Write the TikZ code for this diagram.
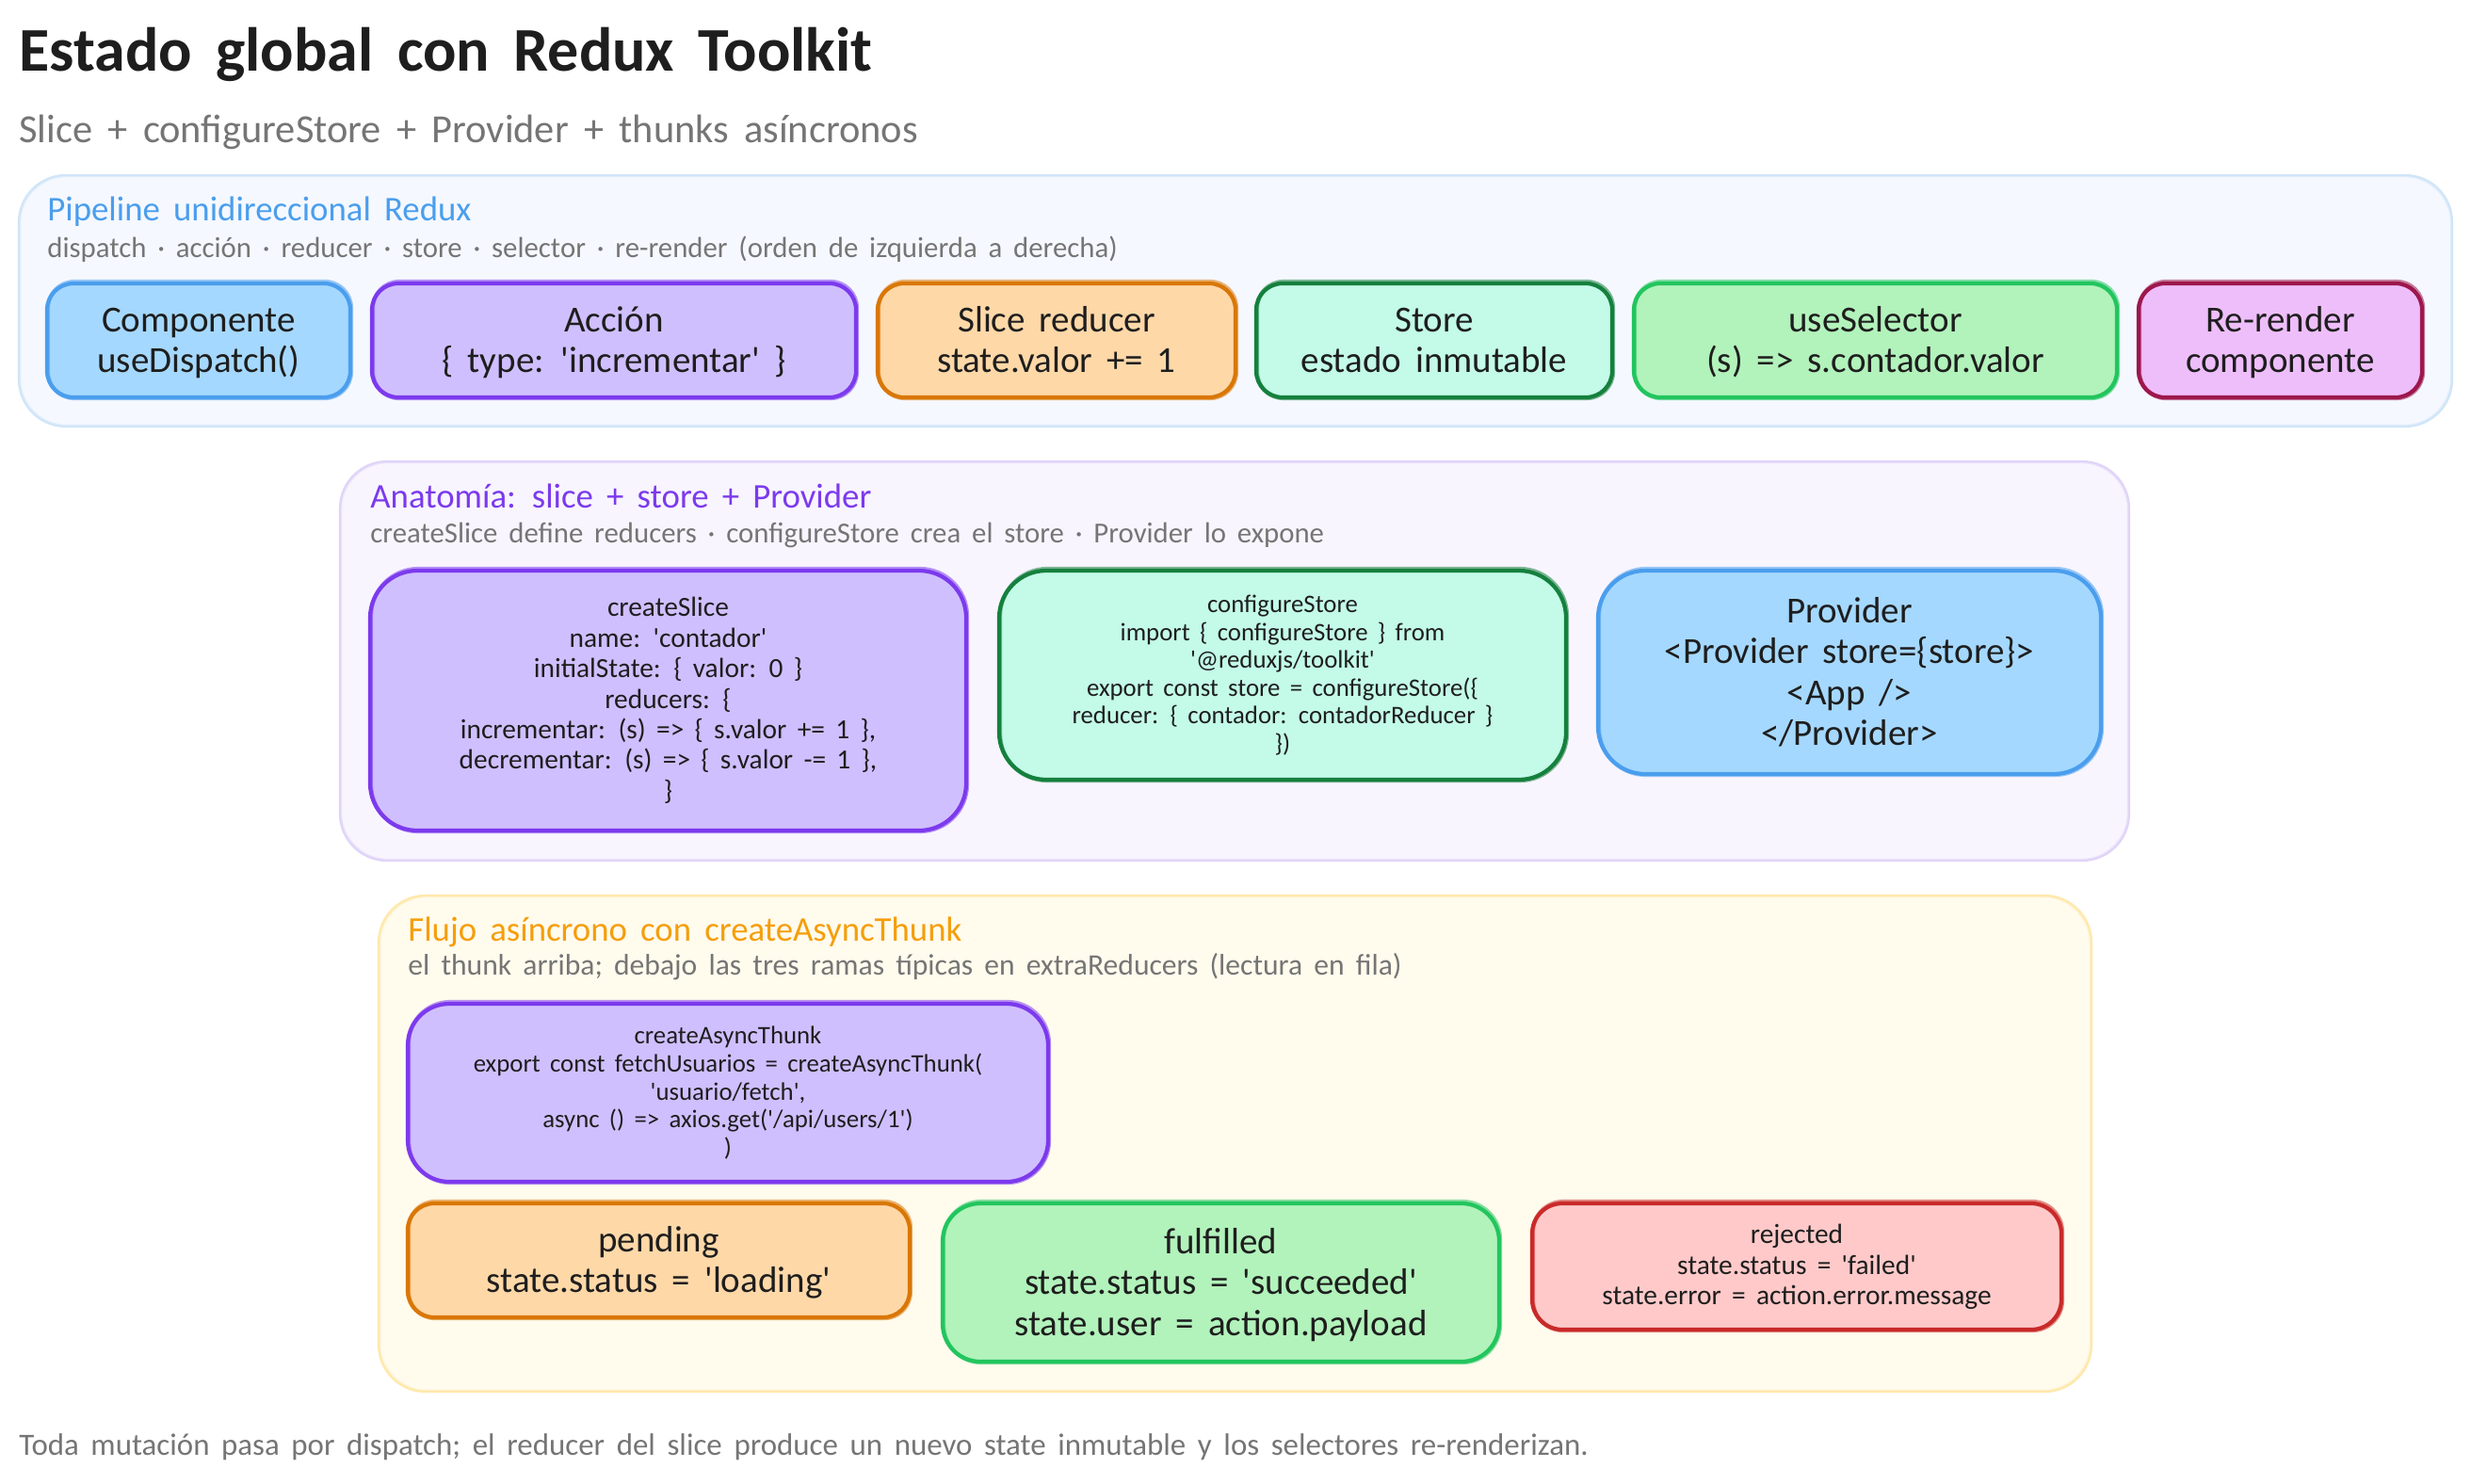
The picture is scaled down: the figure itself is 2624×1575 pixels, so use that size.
\documentclass[tikz,border=0pt]{standalone}
\usepackage{fontspec}
\newfontfamily\hand{Carlito}[WordSpace=1.7]
\definecolor{ink}{HTML}{1E1E1E}
\definecolor{muted}{HTML}{757575}
\definecolor{cblue}{HTML}{4A9EED}
\definecolor{cviolet}{HTML}{7C3AED}
\definecolor{camber}{HTML}{F59E0B}
\definecolor{fblue}{HTML}{A5D8FF}
\definecolor{fviolet}{HTML}{D0BFFF}
\definecolor{forange}{HTML}{FFD8A8}
\definecolor{corange}{HTML}{D97706}
\definecolor{fteal}{HTML}{C3FAE8}
\definecolor{cteal}{HTML}{15803D}
\definecolor{fgreen}{HTML}{B2F2BB}
\definecolor{cgreen}{HTML}{22C55E}
\definecolor{fpink}{HTML}{EEBEFA}
\definecolor{cpink}{HTML}{9D174D}
\definecolor{fred}{HTML}{FFC9C9}
\definecolor{cred}{HTML}{C92A2A}
\definecolor{pbluef}{HTML}{F5F8FF}
\definecolor{pbluec}{HTML}{D0E5F8}
\definecolor{pviof}{HTML}{F8F5FF}
\definecolor{pvioc}{HTML}{E0D4F8}
\definecolor{pambf}{HTML}{FFFBED}
\definecolor{pambc}{HTML}{FFE8AB}
\tikzset{
  x=0.5pt,y=-0.5pt,
  bluebox/.style={fill=fblue,draw=cblue},
  violetbox/.style={fill=fviolet,draw=cviolet},
  orangebox/.style={fill=forange,draw=corange},
  tealbox/.style={fill=fteal,draw=cteal},
  greenbox/.style={fill=fgreen,draw=cgreen},
  pinkbox/.style={fill=fpink,draw=cpink},
  redbox/.style={fill=fred,draw=cred},
  bluepanel/.style={fill=pbluef,draw=pbluec,line width=1.1pt},
  violetpanel/.style={fill=pviof,draw=pvioc,line width=1.1pt},
  amberpanel/.style={fill=pambf,draw=pambc,line width=1.1pt},
  boxline/.style={line width=2.1pt},
  bigt/.style={yshift=-2pt,font=\hand\fontsize{19.5}{21.7}\selectfont},
  midt/.style={yshift=-0.8pt,font=\hand\fontsize{14.7}{16.2}\selectfont},
  smallt/.style={yshift=-0.8pt,font=\hand\fontsize{13.4}{14.8}\selectfont},
  maintitle/.style={anchor=west,inner sep=0,text=ink,font=\hand\bfseries\fontsize{33}{36}\selectfont},
  subtitle/.style={anchor=west,inner sep=0,text=muted,font=\hand\fontsize{21.2}{26}\selectfont},
  paneltitle/.style={anchor=west,inner sep=0,font=\hand\fontsize{18.4}{24}\selectfont},
  panelsub/.style={anchor=west,inner sep=0,text=muted,font=\hand\fontsize{15.4}{18}\selectfont},
  panelsubwide/.style={anchor=west,inner sep=0,text=muted,font=\hand\fontsize{15.8}{18}\selectfont},
  footnote/.style={anchor=west,inner sep=0,text=muted,font=\hand\fontsize{16.45}{18}\selectfont},
  boxtext/.style={text=ink,align=center,inner sep=0}
}
% name, x1,y1,x2,y2, radius(pt), look, size, text
\newcommand\skbox[9]{%
  \path[#7,draw=none,rounded corners=#6pt] (#2,#3) rectangle (#4,#5);
  \path[#7,fill=none,boxline,opacity=.55,rounded corners=#6pt] ({#2+1},{#3-2}) rectangle ({#4+1},{#5+1});
  \path[#7,fill=none,boxline,rounded corners=#6pt] (#2,#3) rectangle (#4,#5);
  \node[boxtext,#8] (#1) at ({(#2+#4)/2},{(#3+#5)/2}) {\strut #9\strut};
}
\newcommand\skpanel[7]{%
  \path[#7,rounded corners=#6pt] (#2,#3) rectangle (#4,#5) coordinate (#1);
  \path[#7,fill=none,opacity=.5,rounded corners=#6pt] ({#2+1},{#3+1}) rectangle ({#4-1},{#5-1});
}
\begin{document}
\begin{tikzpicture}
\useasboundingbox (0,0) rectangle (2624,1575);
\fill[white] (0,0) rectangle (2624,1575);
\node[maintitle] (title) at (20,58) {Estado global con Redux Toolkit};
\node[subtitle] (subt) at (20,140) {Slice + configureStore + Provider + thunks asíncronos};

\skpanel{p1}{20}{186}{2604}{453}{25}{bluepanel}
\node[paneltitle,text=cblue] (p1t) at (50,225) {Pipeline unidireccional Redux};
\node[panelsub] (p1s) at (50,265) {dispatch · acción · reducer · store · selector · re-render (orden de izquierda a derecha)};
\skbox{a1}{50}{301}{372}{422}{14}{bluebox}{bigt}{Componente\\useDispatch()}
\skbox{a2}{395}{301}{909}{422}{14}{violetbox}{bigt}{Acción\\\{ type: 'incrementar' \}}
\skbox{a3}{932}{301}{1312}{422}{14}{orangebox}{bigt}{Slice reducer\\state.valor += 1}
\skbox{a4}{1334}{301}{1712}{422}{14}{tealbox}{bigt}{Store\\estado inmutable}
\skbox{a5}{1735}{301}{2248}{422}{14}{greenbox}{bigt}{useSelector\\(s) => s.contador.valor}
\skbox{a6}{2271}{301}{2572}{422}{14}{pinkbox}{bigt}{Re-render\\componente}

\skpanel{p2}{361}{490}{2261}{914}{25}{violetpanel}
\node[paneltitle,text=cviolet] (p2t) at (393,527) {Anatomía: slice + store + Provider};
\node[panelsub] (p2s) at (393,568) {createSlice define reducers · configureStore crea el store · Provider lo expone};
\skbox{b1}{393}{606}{1026}{882}{25}{violetbox}{midt}{createSlice\\name: 'contador'\\initialState: \{ valor: 0 \}\\reducers: \{\\incrementar: (s) => \{ s.valor += 1 \},\\decrementar: (s) => \{ s.valor -= 1 \},\\\}}
\skbox{b2}{1061}{606}{1663}{828}{25}{tealbox}{smallt}{configureStore\\import \{ configureStore \} from\\'@reduxjs/toolkit'\\export const store = configureStore(\{\\reducer: \{ contador: contadorReducer \}\\\})}
\skbox{b3}{1697}{606}{2231}{822}{25}{bluebox}{bigt}{Provider\\<Provider store=\{store\}>\\<App />\\</Provider>}

\skpanel{p3}{402}{951}{2221}{1478}{25}{amberpanel}
\node[paneltitle,text=camber] (p3t) at (433,990) {Flujo asíncrono con createAsyncThunk};
\node[panelsubwide] (p3s) at (433,1027) {el thunk arriba; debajo las tres ramas típicas en extraReducers (lectura en fila)};
\skbox{c1}{433}{1066}{1113}{1255}{22}{violetbox}{smallt}{createAsyncThunk\\export const fetchUsuarios = createAsyncThunk(\\'usuario/fetch',\\async () => axios.get('/api/users/1')\\)}
\skbox{c2}{433}{1278}{966}{1399}{14}{orangebox}{bigt}{pending\\state.status = 'loading'}
\skbox{c3}{1001}{1278}{1592}{1446}{20}{greenbox}{bigt}{fulfilled\\state.status = 'succeeded'\\state.user = action.payload}
\skbox{c4}{1627}{1278}{2189}{1412}{16}{redbox}{midt}{rejected\\state.status = 'failed'\\state.error = action.error.message}

\node[footnote] (foot) at (20,1537) {Toda mutación pasa por dispatch; el reducer del slice produce un nuevo state inmutable y los selectores re-renderizan.};
\end{tikzpicture}
\end{document}
